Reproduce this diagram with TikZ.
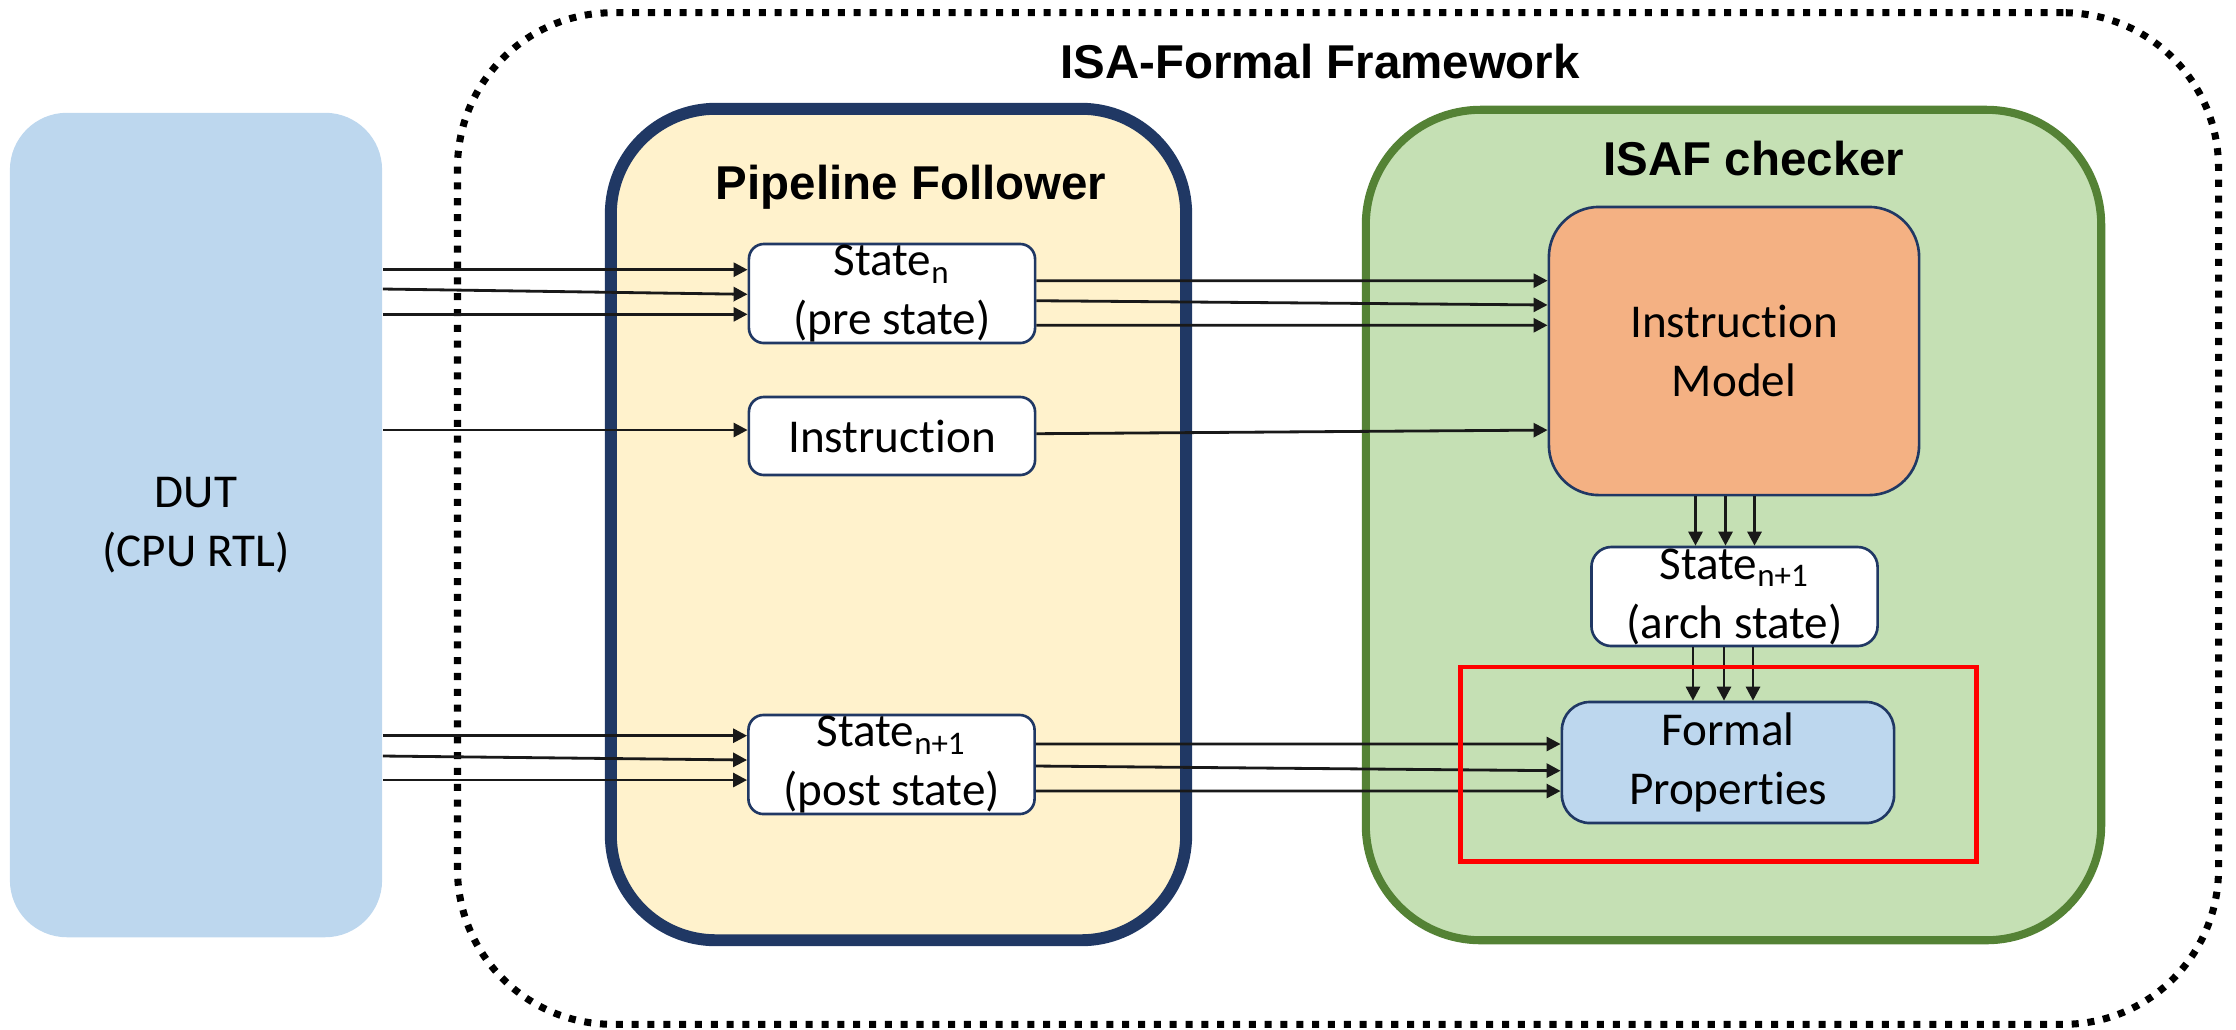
\documentclass[tikz,border=0pt]{standalone}
\usepackage{fontspec}
\setmainfont{Carlito}[Ligatures=NoCommon]
\newfontfamily\headfont{Liberation Sans}
\usepackage{tikz}
\usetikzlibrary{arrows.meta,calc}
\definecolor{FwNavy}{HTML}{203864}
\definecolor{FwGreen}{HTML}{548235}
\definecolor{FwBlue}{HTML}{BDD7EE}
\definecolor{FwCream}{HTML}{FFF2CC}
\definecolor{FwSage}{HTML}{C5E0B4}
\definecolor{FwPeach}{HTML}{F4B183}

\begin{document}
\begin{tikzpicture}[x=0.01cm, y=-0.01cm, every node/.style={font={\fontsize{13.4}{16.8}\selectfont}}, box/.style={draw=FwNavy,line width=0.75pt,rounded corners=1.5mm,fill=white,minimum width=2.86cm,minimum height=0.99cm,align=center,inner sep=0pt}, hd/.style={font={\headfont\bfseries\fontsize{13.5}{16}\selectfont},anchor=base}, a/.style={-{Triangle[length=1.4mm,width=1.4mm]},line width=0.8pt,black!90}]
\useasboundingbox (0,0) rectangle (2236,1029);
% outer framework and the three columns
\node[draw,line width=2pt,dash pattern=on 2pt off 2.5pt,rounded corners=15.5mm,minimum width=17.6cm,minimum height=10.11cm] (fw) at (1338,518.5) {};
\node[hd] (fwt) at (1320,78) {ISA-Formal Framework};
\node[fill=FwBlue,rounded corners=5.7mm,minimum width=3.72cm,minimum height=8.24cm,align=center] (dut) at (196,525) {DUT\\(CPU RTL)};
\node[draw=FwNavy,line width=3.4pt,fill=FwCream,rounded corners=10.5mm,minimum width=5.75cm,minimum height=8.31cm] (pf) at (898.5,524.5) {};
\node[hd] (pft) at (911,199) {Pipeline Follower};
\node[draw=FwGreen,line width=2.3pt,fill=FwSage,rounded corners=11.5mm,minimum width=7.35cm,minimum height=8.3cm] (isaf) at (1733.5,525) {};
\node[hd] (isaft) at (1754,175) {ISAF checker};
% inner blocks
\node[box] (sn) at (892,293.5) {State\textsubscript{n}\\(pre state)};
\node[box,minimum height=0.78cm] (ins) at (892,436) {Instruction};
\node[box] (sp) at (891.5,764.5) {State\textsubscript{n+1}\\(post state)};
\node[box,fill=FwPeach,rounded corners=5mm,minimum width=3.7cm,minimum height=2.88cm] (im) at (1734,351) {Instruction\\Model};
\node[box,rounded corners=2mm] (sa) at (1734.5,596.5) {State\textsubscript{n+1}\\(arch state)};
\node[box,fill=FwBlue,rounded corners=2.8mm,minimum width=3.32cm,minimum height=1.21cm] (fp) at (1728,762.5) {Formal\\Properties};
% DUT -> pipeline follower
\draw[a] ($(sn.west-|dut.east)+(0,2.38mm)$)--([yshift=2.38mm]sn.west);\draw[a] ($(sn.west-|dut.east)+(0,0.45mm)$)--([yshift=-0.08mm]sn.west);\draw[a] ($(sn.west-|dut.east)+(0,-2.08mm)$)--([yshift=-2.08mm]sn.west);
\draw[a] ($(ins.west-|dut.east)+(0,0.6mm)$)--([yshift=0.6mm]ins.west);
\draw[a] ($(sp.west-|dut.east)+(0,2.88mm)$)--([yshift=2.88mm]sp.west);\draw[a] ($(sp.west-|dut.east)+(0,0.85mm)$)--([yshift=0.45mm]sp.west);\draw[a] ($(sp.west-|dut.east)+(0,-1.55mm)$)--([yshift=-1.55mm]sp.west);
% pipeline follower -> checker
\draw[a] ([yshift=1.28mm]sn.east)--([yshift=7.03mm]im.west);\draw[a] ([yshift=-0.72mm]sn.east)--([yshift=4.6mm]im.west);\draw[a] ([yshift=-3.18mm]sn.east)--([yshift=2.57mm]im.west);
\draw[a] ([yshift=0.23mm]ins.east)--([yshift=-7.9mm]im.west);
\draw[a] ([yshift=2.05mm]sp.east)--([yshift=1.85mm]fp.west);\draw[a] ([yshift=-0.15mm]sp.east)--([yshift=-0.82mm]fp.west);\draw[a] ([yshift=-2.65mm]sp.east)--([yshift=-2.85mm]fp.west);
% inside the checker
\draw[a] ([xshift=-3.85mm]im.south)--([xshift=-3.85mm]im.south|-sa.north);\draw[a] ([xshift=-0.85mm]im.south)--([xshift=-0.85mm]im.south|-sa.north);\draw[a] ([xshift=2.05mm]im.south)--([xshift=2.05mm]im.south|-sa.north);
\draw[a] ([xshift=-4.15mm]sa.south)--([xshift=-4.15mm]sa.south|-fp.north);\draw[a] ([xshift=-1.05mm]sa.south)--([xshift=-1.05mm]sa.south|-fp.north);\draw[a] ([xshift=1.85mm]sa.south)--([xshift=1.85mm]sa.south|-fp.north);
\node[draw=red,line width=1.4pt,minimum width=5.15cm,minimum height=1.94cm] (focus) at (1718.5,764) {};
\end{tikzpicture}
\end{document}
